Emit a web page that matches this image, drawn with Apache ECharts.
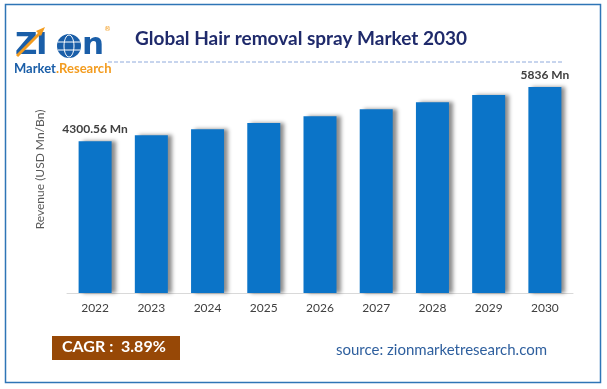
<!DOCTYPE html>
<html>
<head>
<meta charset="utf-8">
<script src="https://cdn.jsdelivr.net/npm/echarts@6/dist/echarts.min.js"></script>
<style>
html,body{margin:0;padding:0;background:#fff;}
#c{width:607px;height:389px;}
</style>
</head>
<body>
<div id="c"></div>
<script>
const years = ['2022','2023','2024','2025','2026','2027','2028','2029','2030'];
const revenue = [4300.56, 4470, 4640, 4815, 5010, 5205, 5405, 5610, 5836];
const valueLabels = ['4300.56 Mn', '', '', '', '', '', '', '', '5836 Mn'];
const titleText = 'Global Hair removal spray Market 2030';
const yAxisTitle = 'Revenue (USD Mn/Bn)';
const cagrText = 'CAGR :  3.89%';
const sourceText = 'source: zionmarketresearch.com';

const FONT = 'Lato';
const LOGO_BLUE = '#1a5ea8';
const LOGO_ORANGE = '#f39c1f';
const chart = echarts.init(document.getElementById('c'), null, {renderer: 'canvas'});

const barData = revenue.map((v, i) => ({
  value: v,
  label: {show: valueLabels[i] !== '', formatter: valueLabels[i]}
}));

chart.setOption({
  animation: false,
  backgroundColor: '#ffffff',
  title: {
    text: titleText,
    left: 130, top: 24,
    textStyle: {fontFamily: FONT, fontSize: 19, fontWeight: 'bold', color: '#1f2a6b'}
  },
  grid: {left: 67, right: 34, top: 46, bottom: 96},
  xAxis: {
    type: 'category',
    data: years,
    axisLine: {lineStyle: {color: '#d9d9d9', width: 1}},
    axisTick: {show: false},
    axisLabel: {color: '#404040', fontFamily: FONT, fontSize: 12, margin: 9}
  },
  yAxis: {
    type: 'value',
    min: 0, max: 7000,
    axisLine: {show: false},
    axisTick: {show: false},
    axisLabel: {show: false},
    splitLine: {show: false},
    name: yAxisTitle,
    nameLocation: 'middle',
    nameRotate: 90,
    nameGap: 21,
    nameTextStyle: {color: '#595959', fontFamily: FONT, fontSize: 12}
  },
  series: [{
    type: 'bar',
    data: barData,
    barWidth: 33,
    itemStyle: {
      color: '#0b74c8',
      shadowColor: 'rgba(0,0,0,0.45)',
      shadowBlur: 4,
      shadowOffsetX: 4,
      shadowOffsetY: 0
    },
    label: {
      position: 'top',
      distance: 6,
      color: '#404040',
      fontFamily: FONT,
      fontSize: 12,
      fontWeight: 'bold'
    }
  }],
  graphic: [
    {type: 'rect', shape: {x: 5.5, y: 4.5, width: 595, height: 378},
     style: {fill: 'none', stroke: '#2e75b6', lineWidth: 1.5}, silent: true},
    {type: 'line', shape: {x1: 108, y1: 62, x2: 563, y2: 62},
     style: {stroke: '#8faadc', lineWidth: 1, lineDash: [4, 2]}},
    // logo
    {type: 'text', left: 15, top: 30,
     style: {text: 'Z', fontFamily: 'DejaVu Sans', fontWeight: 'bold', fontSize: 31, fill: LOGO_BLUE}},
    {type: 'text', left: 36, top: 30,
     style: {text: 'I', fontFamily: 'DejaVu Sans', fontWeight: 'bold', fontSize: 31, fill: LOGO_BLUE}},
    {type: 'circle', shape: {cx: 69, cy: 46, r: 12},
     style: {fill: LOGO_BLUE}},
    {type: 'ellipse', shape: {cx: 69, cy: 46, rx: 5, ry: 11},
     style: {fill: 'none', stroke: '#ffffff', lineWidth: 1}},
    {type: 'line', shape: {x1: 58, y1: 42, x2: 80, y2: 42},
     style: {stroke: '#ffffff', lineWidth: 1}},
    {type: 'line', shape: {x1: 58, y1: 50, x2: 80, y2: 50},
     style: {stroke: '#ffffff', lineWidth: 1}},
    {type: 'text', left: 82, top: 30,
     style: {text: 'n', fontFamily: 'DejaVu Sans', fontWeight: 'bold', fontSize: 31, fill: LOGO_BLUE}},
    {type: 'line', shape: {x1: 17, y1: 56, x2: 41, y2: 32},
     style: {stroke: LOGO_ORANGE, lineWidth: 3}},
    {type: 'polygon', shape: {points: [[45, 27], [36, 31], [41, 36]]},
     style: {fill: LOGO_ORANGE}},
    {type: 'text', left: 104, top: 26,
     style: {text: '®', fontFamily: 'DejaVu Sans', fontSize: 7, fill: LOGO_ORANGE}},
    {type: 'text', left: 14, top: 62,
     style: {text: 'Market', fontFamily: FONT, fontWeight: 'bold', fontSize: 13, fill: LOGO_BLUE}},
    {type: 'text', left: 56, top: 62,
     style: {text: '.Research', fontFamily: FONT, fontWeight: 'bold', fontSize: 13, fill: LOGO_ORANGE}},
    // CAGR box
    {type: 'rect', shape: {x: 52, y: 336, width: 128, height: 24},
     style: {fill: '#974806'}},
    {type: 'text', left: 62, top: 339,
     style: {text: cagrText, fontFamily: FONT, fontWeight: 'bold', fontSize: 16, fill: '#ffffff'}},
    {type: 'text', left: 336, top: 343,
     style: {text: sourceText, fontFamily: FONT, fontSize: 15, fill: '#2e5f9e'}}
  ]
});
</script>
</body>
</html>
